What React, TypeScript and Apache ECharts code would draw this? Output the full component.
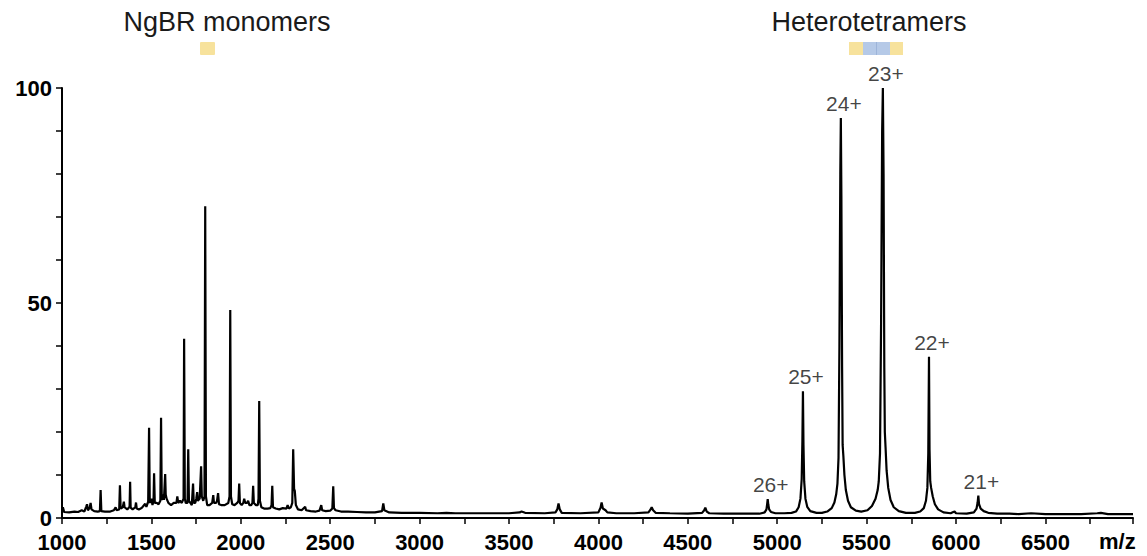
import React, { useEffect, useRef } from "react";
import * as echarts from "echarts";

// Spectrum trace: [m/z, relative intensity %]
const lowMassTrace: [number, number][] = [
  [1000, 1.2], [1005, 2.5], [1012, 1.4], [1040, 1.3], [1070, 1.5], [1090, 1.4], [1110, 1.8], [1125, 1.5],
  [1135, 2.6], [1140, 3.2], [1145, 1.8], [1155, 2.4], [1160, 3.5], [1165, 2], [1180, 1.6], [1200, 1.5],
  [1212, 1.6], [1216, 6.5], [1220, 1.6], [1240, 1.5], [1270, 1.5], [1290, 1.8], [1300, 2.5], [1305, 1.8],
  [1320, 2], [1324, 7.6], [1328, 2.2], [1340, 2.5], [1346, 3.8], [1350, 2.5], [1365, 2], [1378, 2.6],
  [1381, 8.4], [1384, 2.4], [1395, 2], [1410, 2.5], [1414, 3.6], [1418, 2.2], [1430, 2], [1445, 2.3],
  [1455, 2.8], [1465, 3.3], [1472, 2.6], [1482, 3.8], [1487, 21], [1491, 3.5], [1500, 4.5], [1506, 3],
  [1512, 4], [1515, 10.4], [1519, 3.5], [1530, 3.5], [1540, 3.2], [1550, 4], [1554, 23.3], [1558, 4.2],
  [1566, 5.5], [1570, 4.2], [1577, 10.2], [1580, 5.5], [1585, 4.5], [1595, 3.5], [1610, 3], [1625, 3.5],
  [1640, 3.5], [1645, 5], [1650, 3.5], [1660, 4], [1670, 3.5], [1680, 4.5], [1683, 41.7], [1687, 4.5],
  [1692, 3.5], [1702, 3.5], [1706, 16], [1710, 4], [1718, 3.5], [1726, 3], [1733, 8], [1737, 3.5],
  [1745, 3.5], [1751, 4.5], [1756, 6], [1760, 4], [1770, 4.5], [1778, 12], [1782, 5], [1790, 4],
  [1797, 5], [1801, 72.5], [1805, 5], [1812, 3], [1825, 3], [1840, 3.5], [1846, 5.3], [1850, 3.5],
  [1862, 3.5], [1867, 4], [1873, 5.8], [1878, 3.2], [1890, 3], [1910, 3], [1930, 3.5], [1937, 5],
  [1941, 48.4], [1945, 5], [1952, 3.2], [1965, 3], [1980, 3.5], [1987, 4], [1991, 8], [1995, 3.5],
  [2005, 3], [2014, 3.5], [2019, 4.5], [2025, 3.5], [2035, 3.5], [2041, 4], [2048, 3], [2058, 3],
  [2065, 3.5], [2069, 7.5], [2073, 3.5], [2085, 3], [2095, 3], [2099, 4.5], [2103, 27.2], [2107, 4],
  [2115, 2.5], [2130, 2.2], [2150, 2.2], [2165, 2.3], [2172, 3], [2176, 7.5], [2180, 2.5], [2195, 2.2],
  [2215, 2], [2235, 2.3], [2255, 2.2], [2262, 3], [2268, 2.2], [2280, 2.5], [2288, 3.5], [2293, 16],
  [2298, 6.8], [2302, 6.3], [2308, 3], [2320, 2], [2340, 1.8], [2360, 2.6], [2365, 1.8], [2390, 1.6],
  [2420, 1.5], [2440, 1.7], [2450, 3], [2455, 1.8], [2475, 1.6], [2500, 1.7], [2512, 2.2], [2517, 7.4],
  [2521, 2.3], [2530, 1.8], [2560, 1.5], [2600, 1.5], [2650, 1.4], [2700, 1.3], [2750, 1.3], [2790, 1.6],
  [2797, 3.4], [2803, 1.8], [2830, 1.3], [2900, 1.2], [3000, 1.2], [3100, 1.1], [3150, 1.2], [3200, 1.1],
  [3300, 1.1], [3400, 1.1], [3500, 1.1], [3560, 1.3], [3570, 1.5], [3590, 1.2], [3700, 1.1], [3760, 1.3],
  [3770, 2], [3777, 3.4], [3784, 2], [3795, 1.2], [3900, 1.1], [4000, 1.3], [4012, 2.4], [4018, 3.6],
  [4025, 2.2], [4040, 1.8], [4050, 1.3], [4100, 1.1], [4200, 1.1], [4280, 1.3], [4292, 2], [4298, 2.5],
  [4306, 1.8], [4320, 1.2], [4400, 1.1], [4500, 1], [4580, 1.2], [4592, 1.8], [4598, 2.4], [4606, 1.5],
  [4620, 1.1], [4700, 1], [4800, 1],
];

const tetramerTrace: [number, number][] = [
  [4900, 1], [4930, 1.3], [4940, 2], [4944, 3.3], [4947, 4.4], [4950, 3.2], [4955, 2], [4965, 1.4],
  [4990, 1.1], [5040, 1.1], [5080, 1.2], [5105, 1.5], [5120, 2.5], [5130, 4.5], [5137, 9], [5141, 18],
  [5144, 29.5], [5147, 17], [5151, 8.5], [5158, 4.5], [5168, 2.6], [5185, 1.6], [5220, 1.2], [5250, 1.2],
  [5280, 1.5], [5305, 2.3], [5320, 3.6], [5330, 5.5], [5337, 8], [5343, 14], [5348, 40], [5353, 80],
  [5356, 93], [5359, 75], [5363, 35], [5366, 17], [5370, 14.5], [5376, 10], [5384, 6.5], [5396, 4],
  [5412, 2.5], [5440, 1.7], [5470, 1.5], [5505, 1.8], [5530, 2.8], [5550, 4.5], [5562, 6.5], [5568, 8.5],
  [5575, 15], [5581, 45], [5587, 90], [5591, 100], [5595, 80], [5599, 35], [5602, 20], [5606, 16.5],
  [5612, 11], [5621, 7], [5634, 4.2], [5652, 2.5], [5680, 1.6], [5720, 1.2], [5770, 1.2], [5800, 1.5],
  [5820, 2.3], [5832, 4], [5840, 7], [5845, 15], [5849, 37.5], [5852, 16], [5856, 8.5], [5861, 7],
  [5870, 5], [5882, 3.2], [5900, 2], [5930, 1.3], [5970, 1.1], [5985, 1.4], [5992, 1.5], [6000, 1.1],
  [6060, 1], [6100, 1.3], [6115, 2.2], [6121, 3.6], [6125, 5.2], [6129, 3.2], [6138, 2.2], [6155, 1.6],
  [6180, 1.2], [6230, 1], [6300, 1], [6350, 0.9], [6420, 1.1], [6500, 0.9], [6600, 0.9], [6700, 0.9],
  [6790, 1.1], [6810, 1.2], [6850, 0.9], [6990, 0.9],
];

// Charge-state labels: [m/z, intensity of peak top]
const chargeLabels = ["26+", "25+", "24+", "23+", "22+", "21+"];
const chargeMz = [4947, 5144, 5356, 5591, 5849, 6125];
const chargeTop = [4.4, 29.5, 93, 100, 37.5, 5.2];

const xTickLabels = ["1000", "1500", "2000", "2500", "3000", "3500", "4000", "4500", "5000", "5500", "6000", "6500"];
const yTickLabels = ["0", "50", "100"];

const FONT = "'Liberation Sans', Arial, Helvetica, sans-serif";

export default function App() {
  const ref = useRef<HTMLDivElement>(null);

  useEffect(() => {
    if (!ref.current) return;
    const chart = echarts.init(ref.current, null, { renderer: "svg" });
    const trace = [...lowMassTrace, ...tetramerTrace];
    const labelData = chargeLabels.map((name, i) => ({ name, value: [chargeMz[i], chargeTop[i]] }));

    chart.setOption({
      animation: false,
      backgroundColor: "#ffffff",
      grid: { left: 62, right: 14, top: 88, bottom: 38, containLabel: false },
      xAxis: {
        type: "value",
        min: 1000,
        max: 6990,
        interval: 250,
        axisLine: { show: true, lineStyle: { color: "#000", width: 2 } },
        axisTick: { show: true, length: 6, lineStyle: { color: "#000", width: 1.5 } },
        splitLine: { show: false },
        axisLabel: {
          margin: 13,
          color: "#000",
          fontFamily: FONT,
          fontWeight: "bold",
          fontSize: 22,
          formatter: (v: number) => (xTickLabels.includes(String(v)) ? String(v) : ""),
        },
      },
      yAxis: {
        type: "value",
        min: 0,
        max: 100,
        interval: 10,
        axisLine: { show: true, lineStyle: { color: "#000", width: 2 } },
        axisTick: { show: true, length: 6, lineStyle: { color: "#000", width: 1.5 } },
        splitLine: { show: false },
        axisLabel: {
          margin: 10,
          color: "#000",
          fontFamily: FONT,
          fontWeight: "bold",
          fontSize: 22,
          formatter: (v: number) => (yTickLabels.includes(String(v)) ? String(v) : ""),
        },
      },
      series: [
        {
          type: "line",
          data: trace,
          showSymbol: false,
          symbol: "none",
          lineStyle: { color: "#000", width: 2.2 },
          z: 3,
        },
        {
          type: "scatter",
          data: labelData,
          symbolSize: 0,
          clip: false,
          silent: true,
          label: {
            show: true,
            position: "top",
            distance: 4,
            offset: [3, 0],
            formatter: (p: any) => p.name,
            color: "#111",
            fontFamily: FONT,
            fontSize: 21,
          },
          z: 4,
        },
      ],
      graphic: [
        {
          type: "text",
          left: 1099,
          top: 530,
          style: { text: "m/z", fill: "#000", font: `bold 22px ${FONT}` },
        },
        {
          type: "text",
          x: 227,
          y: 22,
          style: { text: "NgBR monomers", fill: "#1a1a1a", font: `27px ${FONT}`, textAlign: "center", textVerticalAlign: "middle" },
        },
        {
          type: "text",
          x: 869,
          y: 22,
          style: { text: "Heterotetramers", fill: "#1a1a1a", font: `27px ${FONT}`, textAlign: "center", textVerticalAlign: "middle" },
        },
        { type: "rect", shape: { x: 200, y: 42, width: 15, height: 13, r: 1 }, style: { fill: "#f7e29c" } },
        { type: "rect", shape: { x: 849, y: 42, width: 14, height: 13 }, style: { fill: "#f7e29c" } },
        { type: "rect", shape: { x: 863, y: 42, width: 27, height: 13 }, style: { fill: "#b5c9e7" } },
        { type: "line", shape: { x1: 876.5, y1: 42, x2: 876.5, y2: 55 }, style: { stroke: "#9db4d9", lineWidth: 1 } },
        { type: "rect", shape: { x: 890, y: 42, width: 13, height: 13 }, style: { fill: "#f7e29c" } },
      ],
    });

    return () => chart.dispose();
  }, []);

  return <div ref={ref} style={{ position: "absolute", left: 0, top: 0, width: 1147, height: 556 }} />;
}
